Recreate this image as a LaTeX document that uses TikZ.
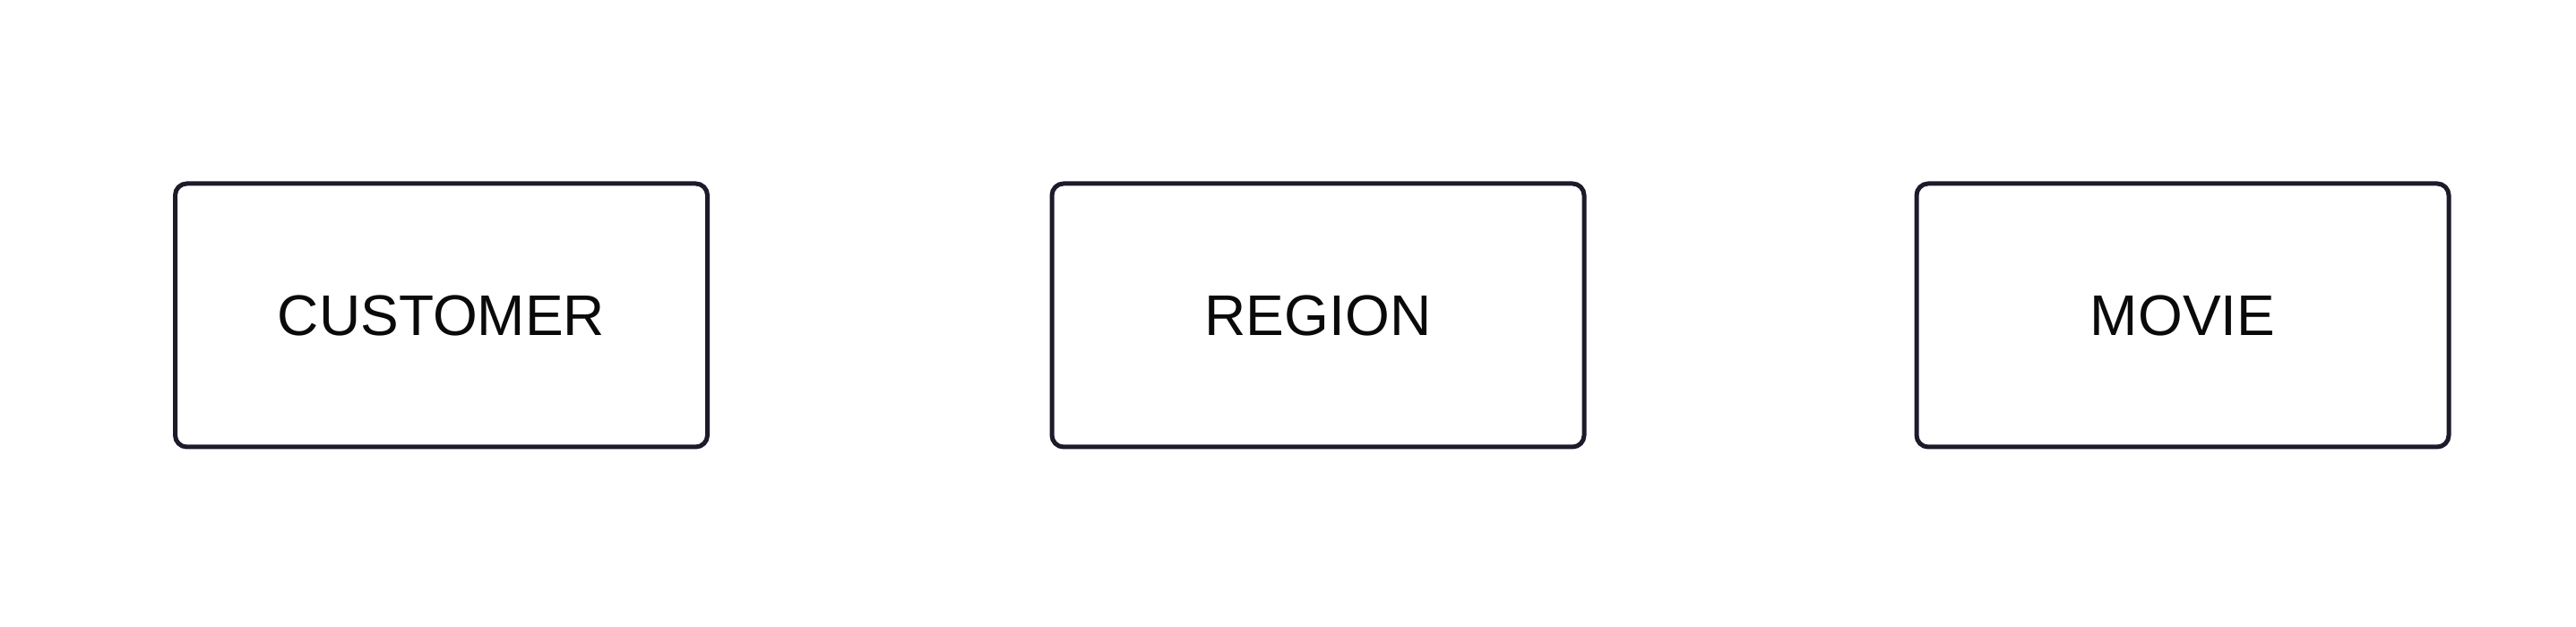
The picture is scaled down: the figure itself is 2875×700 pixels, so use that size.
\documentclass[tikz,border=0pt]{standalone}
\usepackage{fontspec}
\setmainfont{Liberation Sans}
\definecolor{edge}{HTML}{1C1B2B}
\definecolor{ink}{HTML}{0A0A0A}
\begin{document}
\begin{tikzpicture}[x=1pt,y=1pt,
  entity/.style={draw=edge, line width=5pt, rectangle, rounded corners=13pt,
    minimum width=594pt, minimum height=294pt, inner sep=0pt,
    text=ink, font=\fontsize{64}{76}\selectfont}]
\useasboundingbox[fill=white] (0,0) rectangle (2875,700);
\node[entity] (customer) at (492.5,348) {CUSTOMER};
\node[entity] (region) at (1471,348) {REGION};
\node[entity] (movie) at (2436,348) {MOVIE};
\end{tikzpicture}
\end{document}
